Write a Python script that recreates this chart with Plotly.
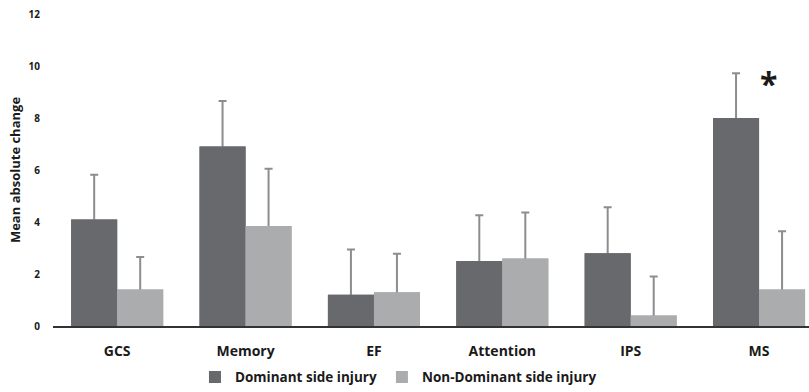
import plotly.graph_objects as go

categories = ["GCS", "Memory", "EF", "Attention", "IPS", "MS"]
dominant_mean = [4.1, 6.9, 1.2, 2.5, 2.8, 8.0]
dominant_sd = [1.72, 1.75, 1.74, 1.76, 1.77, 1.72]
nondominant_mean = [1.4, 3.85, 1.3, 2.6, 0.4, 1.4]
nondominant_sd = [1.25, 2.2, 1.48, 1.77, 1.5, 2.24]
y_ticks = [0, 2, 4, 6, 8, 10, 12]
significant = ["MS"]

FONT = "Open Sans"
DARK = "#68696c"
LIGHT = "#abacae"
ERR = "#8c8d90"
TXT = "#1a1a1a"

x_idx = list(range(len(categories)))

series = [
    ("Dominant side injury", dominant_mean, dominant_sd, DARK, "dom"),
    ("Non-Dominant side injury", nondominant_mean, nondominant_sd, LIGHT, "nondom"),
]

fig = go.Figure()
# bars carrying symmetric SD whiskers
for name, mean, sd, color, grp in series:
    fig.add_trace(go.Bar(
        x=x_idx, y=mean, name=name, offsetgroup=grp, showlegend=True,
        legendgroup=grp,
        marker=dict(color=color, line=dict(width=0)),
        error_y=dict(type="data", array=sd, color=ERR, thickness=2, width=4),
    ))
# same bars drawn again on top so only the upper whisker shows
for name, mean, sd, color, grp in series:
    fig.add_trace(go.Bar(
        x=x_idx, y=mean, name=name, offsetgroup=grp, showlegend=False,
        legendgroup=grp, hoverinfo="skip",
        marker=dict(color=color, line=dict(width=0)),
    ))

# significance marker above the flagged group
for cat in significant:
    i = categories.index(cat)
    fig.add_annotation(x=i + 0.07, y=dominant_mean[i] + dominant_sd[i] - 0.4,
                       text="<b>*</b>", showarrow=False,
                       font=dict(family=FONT, size=32, color=TXT))

fig.update_layout(
    width=809, height=392,
    margin=dict(l=53, r=0, t=14, b=66, autoexpand=False),
    paper_bgcolor="white", plot_bgcolor="white",
    barmode="group", bargap=0.283, bargroupgap=0,
    font=dict(family=FONT, color=TXT),
    showlegend=True,
    legend=dict(orientation="h", xref="container", x=0.241, xanchor="left",
                yref="container", y=0.038, yanchor="middle",
                bgcolor="rgba(0,0,0,0)",
                font=dict(family=FONT, size=13.5, color=TXT, weight="bold"),
                itemwidth=30, tracegroupgap=0),
    xaxis=dict(
        range=[-0.5, 5.389], tickmode="array", tickvals=x_idx,
        ticktext=[f"<b>{c}</b>" for c in categories],
        tickfont=dict(family=FONT, size=14, color=TXT),
        showline=True, linecolor="#333333", linewidth=1.5,
        showgrid=False, zeroline=False, ticks="", ticklabelstandoff=11,
    ),
    yaxis=dict(
        range=[0, 12], tickvals=y_ticks,
        ticktext=[f"<b>{v}</b>" for v in y_ticks],
        tickfont=dict(family=FONT, size=10, color=TXT),
        showline=False, showgrid=False, zeroline=False, ticks="",
        ticklabelstandoff=12,
        title=dict(text="<b>Mean absolute change</b>", standoff=5,
                   font=dict(family=FONT, size=13, color=TXT)),
    ),
)

fig.write_html("out.html")
